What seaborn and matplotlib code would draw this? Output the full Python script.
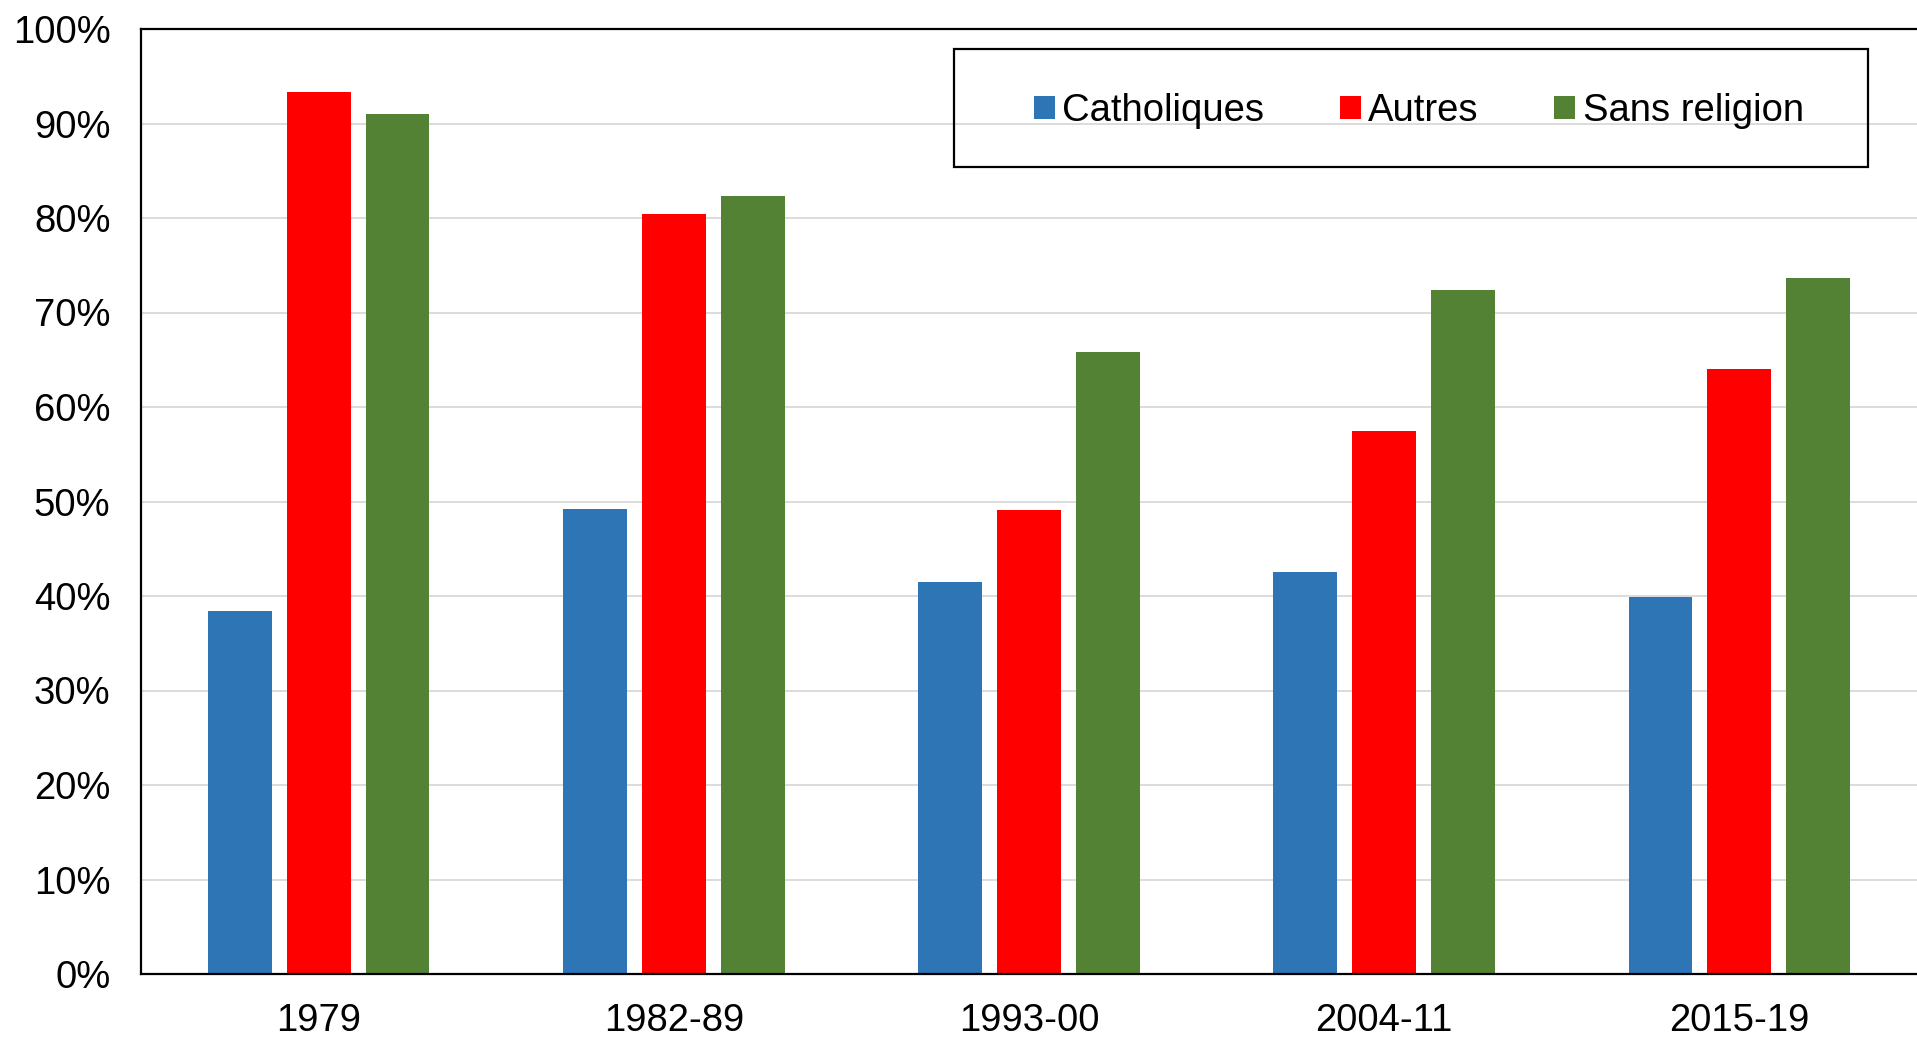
import pandas as pd
import matplotlib
matplotlib.use("Agg")
import matplotlib.pyplot as plt
import seaborn as sns
from matplotlib.patches import Rectangle
from matplotlib.ticker import PercentFormatter

periodes = ["1979", "1982-89", "1993-00", "2004-11", "2015-19"]
groupes = ["Catholiques", "Autres", "Sans religion"]
catholiques = [38.4, 49.2, 41.5, 42.5, 39.9]
autres = [93.3, 80.4, 49.1, 57.5, 64.0]
sans_religion = [91.0, 82.3, 65.8, 72.4, 73.6]
couleurs = ["#2E75B6", "#FF0000", "#548235"]

sns.set_theme(style="white")
plt.rcParams["font.family"] = ["Liberation Sans", "DejaVu Sans"]

df = pd.DataFrame({
    "Periode": periodes * 3,
    "Groupe": [g for g in groupes for _ in periodes],
    "Valeur": catholiques + autres + sans_religion,
})

fig = plt.figure(figsize=(19.17, 10.37), dpi=100)
W, H = 1917, 1037
ax = fig.add_axes([141 / W, 1 - 974 / H, (1917 - 141) / W, (974 - 29) / H])

sns.barplot(data=df, x="Periode", y="Valeur", hue="Groupe", palette=couleurs,
            width=0.666, gap=0.19, linewidth=0, saturation=1, ax=ax, legend=True)

ax.set_xlim(-0.5, 4.5)
ax.set_ylim(0, 100)
ax.set_yticks(range(0, 101, 10))
ax.yaxis.set_major_formatter(PercentFormatter(decimals=0))
ax.set_xlabel("")
ax.set_ylabel("")
ax.grid(axis="y", color="#D9D9D9", linewidth=1.3)
ax.set_axisbelow(True)
ax.tick_params(axis="y", length=0, pad=22, labelsize=27.5, colors="black")
ax.tick_params(axis="x", length=0, pad=21, labelsize=27.5, colors="black")
for side in ["left", "top", "bottom"]:
    ax.spines[side].set_color("black")
    ax.spines[side].set_linewidth(1.6)
ax.spines["right"].set_visible(False)

# legende sans cadre + rectangle dessine a la main
handles, labels = ax.get_legend_handles_labels()
ax.legend(handles, labels, loc="center", bbox_to_anchor=(0.7195, 0.913), ncol=3,
          frameon=False, fontsize=27.5, labelcolor="black", handlelength=0.55,
          handleheight=0.55, handletextpad=0.2, columnspacing=1.97)
x0 = (954 - 141) / 1776
y0 = (974 - 167) / 945
ax.add_patch(Rectangle((x0, y0), (1868 - 954) / 1776, (167 - 49) / 945,
                       transform=ax.transAxes, fill=False, edgecolor="black",
                       linewidth=1.6, zorder=5, clip_on=False))

fig.savefig("out.png", dpi=100, facecolor="white")
